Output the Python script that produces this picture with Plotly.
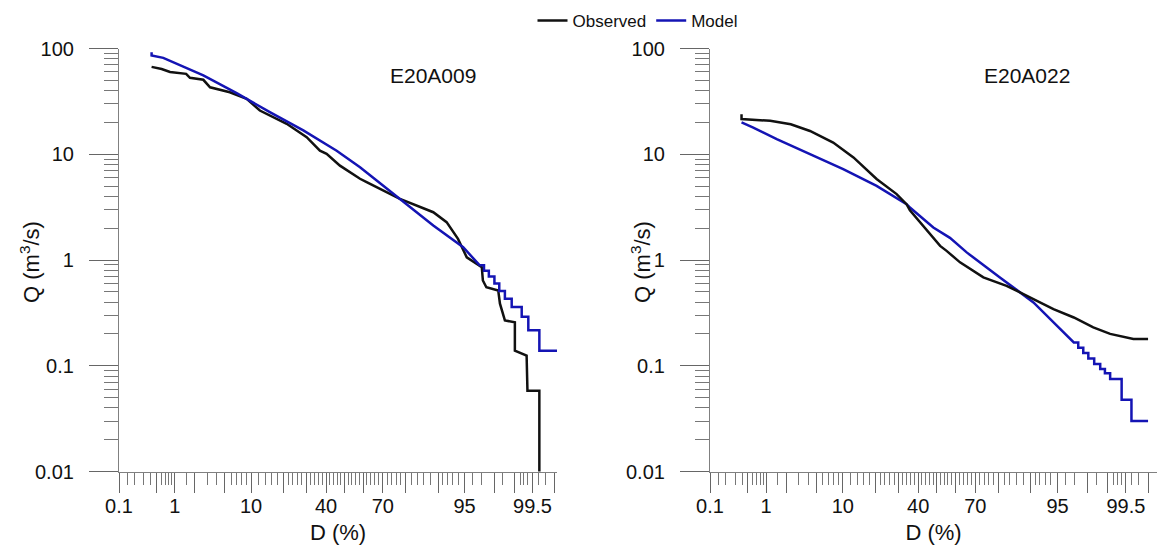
import plotly.graph_objects as go
from statistics import NormalDist

# ---------------- data (D in %, Q in m3/s) ----------------
obs1_D = [0.41, 0.61, 0.84, 1.5, 1.71, 2.65, 3.27, 5.8, 9.0, 12.3, 21.4, 30.2, 36.8, 40.3, 47.5,
          58.4, 61.9, 77.6, 88.8, 91.9, 94.0, 95.3, 97.0, 97.1, 97.4, 98.24, 98.34, 98.6, 99.02,
          99.02, 99.37, 99.39, 99.62, 99.62]
obs1_Q = [67, 64, 60, 57.6, 52.8, 50.6, 43, 38.6, 33.4, 25.9, 19.4, 14.5, 10.8, 10.1, 7.8,
          5.86, 5.45, 3.79, 2.83, 2.28, 1.585, 1.06, 0.855, 0.64, 0.553, 0.515, 0.386, 0.268, 0.258,
          0.139, 0.125, 0.058, 0.058, 0.005]

mod1_D = [0.41, 0.41, 0.65, 1.01, 1.53, 2.65, 6.97, 15.3, 28.6, 45.7, 58.4, 77.6, 88.8, 94.8, 96.8,
          97.2, 97.2, 97.6, 97.6, 98.0, 98.0, 98.3, 98.3, 98.6, 98.6, 98.9, 98.9, 99.24, 99.24,
          99.41, 99.41, 99.62, 99.62, 99.82]
mod1_Q = [92, 86, 81.6, 72.6, 65.6, 55.6, 37.8, 25, 16.8, 10.8, 7.55, 3.79, 2.12, 1.32, 0.89,
          0.89, 0.79, 0.79, 0.70, 0.70, 0.60, 0.60, 0.51, 0.51, 0.43, 0.43, 0.36, 0.36, 0.29,
          0.29, 0.217, 0.217, 0.139, 0.139]

obs2_D = [0.39, 0.39, 1.16, 2.33, 4.2, 7.9, 12.8, 20.6, 29.2, 34.0, 35.7, 42.7, 51.8, 55.3, 62.4,
          73.7, 82.9, 90.6, 94.4, 96.9, 98.35, 99.09, 99.63, 99.8]
obs2_Q = [23.9, 21.5, 20.7, 19.2, 16.6, 12.9, 9.33, 5.83, 4.2, 3.37, 2.95, 2.1, 1.36, 1.22, 0.95,
          0.685, 0.57, 0.427, 0.343, 0.286, 0.231, 0.2, 0.179, 0.179]

mod2_D = [0.39, 0.62, 1.46, 4.2, 10.1, 20.6, 34.0, 35.7, 48.1, 57.1, 65.8, 80.5, 90.6, 94.9, 96.9,
          97.3, 97.3, 97.7, 97.7, 98.05, 98.05, 98.4, 98.4, 98.7, 98.7, 98.9, 98.9, 99.09, 99.09,
          99.41, 99.41, 99.6, 99.6, 99.8]
mod2_Q = [20, 17.9, 13.9, 10, 7.23, 5.03, 3.37, 3.14, 2.03, 1.62, 1.18, 0.685, 0.397, 0.239, 0.166,
          0.166, 0.148, 0.148, 0.132, 0.132, 0.117, 0.117, 0.104, 0.104, 0.093, 0.093, 0.085, 0.085,
          0.0748, 0.0748, 0.0478, 0.0478, 0.030, 0.030]

x_major = [0.1, 0.5, 1, 2, 5, 10, 20, 30, 40, 50, 60, 70, 80, 90, 95, 98, 99, 99.5, 99.8]
x_labels = {0.1: "0.1", 1: "1", 10: "10", 40: "40", 70: "70", 95: "95", 99.5: "99.5"}
x_minor = ([0.15, 0.2, 0.3, 0.4, 0.6, 0.7, 0.8, 0.9, 1.5, 3, 4, 6, 7, 8, 9, 12, 14, 16, 18]
           + [v for v in range(22, 90, 2) if v % 10 != 0]
           + [91, 92, 93, 94, 96, 97, 98.5, 99.2, 99.3, 99.4, 99.6, 99.7])
y_major = [0.01, 0.1, 1, 10, 100]
y_labels = ["0.01", "0.1", "1", "10", "100"]
y_minor = [m * 10.0 ** e for e in range(-2, 2) for m in range(2, 10)]

panel_titles = ["E20A009", "E20A022"]
x_title = "D (%)"
y_title = "Q (m<sup>3</sup>/s)"
x_end = [99.82, 99.865]

# ---------------- helpers ----------------
nd = NormalDist()


def z(p):
    return nd.inv_cdf(p / 100.0)


W, H = 1158, 545
BLACK = "#111111"
BLUE = "#1414b4"
FONT = "Liberation Sans, Arial, sans-serif"
TXT = "#111111"

fig = go.Figure()

fig.add_trace(go.Scatter(x=[z(d) for d in obs1_D], y=obs1_Q, mode="lines", name="Observed",
                         line=dict(color=BLACK, width=2.5), xaxis="x", yaxis="y", legendrank=1))
fig.add_trace(go.Scatter(x=[z(d) for d in mod1_D], y=mod1_Q, mode="lines", name="Model",
                         line=dict(color=BLUE, width=2.5), xaxis="x", yaxis="y", legendrank=2))
fig.add_trace(go.Scatter(x=[z(d) for d in mod2_D], y=mod2_Q, mode="lines", name="Model",
                         line=dict(color=BLUE, width=2.5), xaxis="x2", yaxis="y2", showlegend=False))
fig.add_trace(go.Scatter(x=[z(d) for d in obs2_D], y=obs2_Q, mode="lines", name="Observed",
                         line=dict(color=BLACK, width=2.5), xaxis="x2", yaxis="y2", showlegend=False))

ydom = [1 - 471.5 / H, 1 - 48.5 / H]
xdoms = [[119 / W, 557 / W], [710 / W, 1157 / W]]


def xaxis_cfg(i):
    return dict(
        domain=xdoms[i], range=[z(0.1), z(x_end[i])], anchor="y" if i == 0 else "y2",
        automargin=False,
        tickmode="array", tickvals=[z(v) for v in x_major],
        ticktext=[x_labels.get(v, "") for v in x_major],
        ticks="outside", ticklen=20, tickwidth=1, tickcolor="#666666",
        minor=dict(tickmode="array", tickvals=[z(v) for v in x_minor], ticks="outside",
                   ticklen=12, tickwidth=1, tickcolor="#777777", showgrid=False),
        showline=True, linecolor="#808080", linewidth=1.2, showgrid=False, zeroline=False,
        tickfont=dict(size=20, color=TXT, family=FONT), ticklabelstandoff=-4,
        title=dict(text=x_title, font=dict(size=22, color=TXT, family=FONT)),
    )


def yaxis_cfg(i):
    return dict(
        domain=ydom, type="log", range=[-2, 2], anchor="x" if i == 0 else "x2",
        automargin=False,
        tickmode="array", tickvals=y_major, ticktext=y_labels,
        ticks="outside", ticklen=29, tickwidth=1, tickcolor="#666666",
        minor=dict(tickmode="array", tickvals=y_minor, ticks="outside", ticklen=14,
                   tickwidth=1, tickcolor="#777777", showgrid=False),
        showline=True, linecolor="#808080", linewidth=1.2, showgrid=False, zeroline=False,
        tickfont=dict(size=20, color=TXT, family=FONT), ticklabelstandoff=11,
    )


fig.update_layout(
    width=W, height=H, margin=dict(l=0, r=0, t=0, b=0, autoexpand=False),
    paper_bgcolor="white", plot_bgcolor="white",
    xaxis=xaxis_cfg(0), xaxis2=xaxis_cfg(1),
    yaxis=yaxis_cfg(0), yaxis2=yaxis_cfg(1),
    showlegend=True,
    legend=dict(orientation="h", x=638 / W, xanchor="center", y=1 - 21 / H, yanchor="middle",
                font=dict(size=17, color=TXT, family=FONT), bgcolor="rgba(0,0,0,0)",
                itemwidth=30, tracegroupgap=0),
    font=dict(family=FONT),
)

# panel labels
for i, txt in enumerate(panel_titles):
    fig.add_annotation(text=txt, xref="x domain" if i == 0 else "x2 domain",
                       yref="y domain" if i == 0 else "y2 domain",
                       x=0.716 if i == 0 else 0.709, y=0.935, xanchor="center", yanchor="middle",
                       showarrow=False, font=dict(size=21, color=TXT, family=FONT))

# y-axis titles (placed close to the tick labels as in the original)
for i, xpx in enumerate([30, 641]):
    fig.add_annotation(text=y_title, xref="paper", yref="paper", x=xpx / W, y=1 - 262 / H,
                       xanchor="center", yanchor="middle", textangle=-90, showarrow=False,
                       font=dict(size=22, color=TXT, family=FONT))

fig.write_html("out.html")
